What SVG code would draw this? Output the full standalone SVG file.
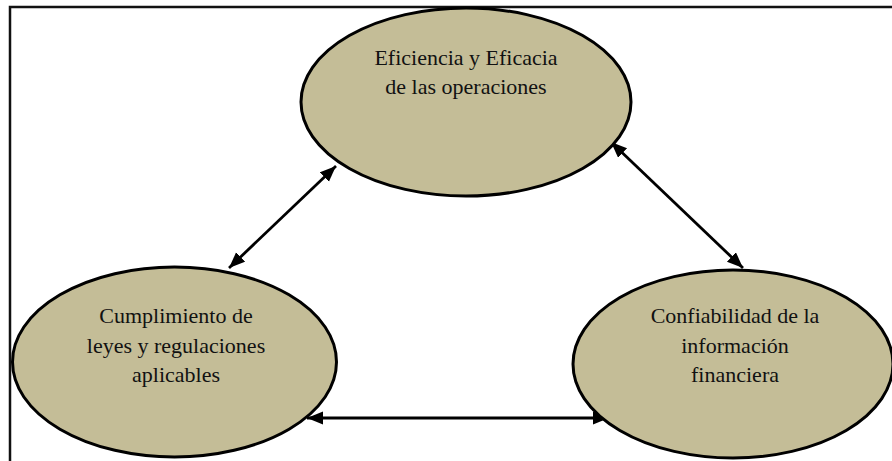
<svg xmlns="http://www.w3.org/2000/svg" width="892" height="461" viewBox="0 0 892 461">
<style>
.frame{fill:none;stroke:#111;stroke-width:2.5}
.node{fill:#C4BD97;stroke:#000;stroke-width:3}
.lbl{font-family:"Liberation Serif","Times New Roman",serif;font-size:22px;fill:#111;text-anchor:middle}
.conn{stroke:#000;stroke-width:2.8;fill:none;marker-start:url(#ah);marker-end:url(#ah)}
</style>
<defs>
<marker id="ah" markerUnits="userSpaceOnUse" markerWidth="18" markerHeight="14" refX="16" refY="6.5" orient="auto-start-reverse" viewBox="0 0 18 14">
<path d="M0,0 L16,6.5 L0,13 Z" fill="#000"/>
</marker>
</defs>
<rect class="frame" x="10" y="7" width="900" height="470"/>
<g id="connectors">
<line class="conn" x1="229" y1="268" x2="336" y2="166"/>
<line class="conn" x1="611" y1="142" x2="743" y2="268"/>
<line class="conn" x1="307" y1="418" x2="609" y2="418"/>
</g>
<g id="node-eficiencia">
<ellipse class="node" cx="466" cy="102" rx="165" ry="94"/>
<text class="lbl" x="466" y="65">Eficiencia y Eficacia</text>
<text class="lbl" x="466" y="94">de las operaciones</text>
</g>
<g id="node-cumplimiento">
<ellipse class="node" cx="174.5" cy="362" rx="162" ry="95"/>
<text class="lbl" x="176" y="323">Cumplimiento de</text>
<text class="lbl" x="176" y="353">leyes y regulaciones</text>
<text class="lbl" x="176" y="382">aplicables</text>
</g>
<g id="node-confiabilidad">
<ellipse class="node" cx="733" cy="364" rx="160" ry="94"/>
<text class="lbl" x="735" y="323">Confiabilidad de la</text>
<text class="lbl" x="735" y="353">información</text>
<text class="lbl" x="735" y="382">financiera</text>
</g>
</svg>
